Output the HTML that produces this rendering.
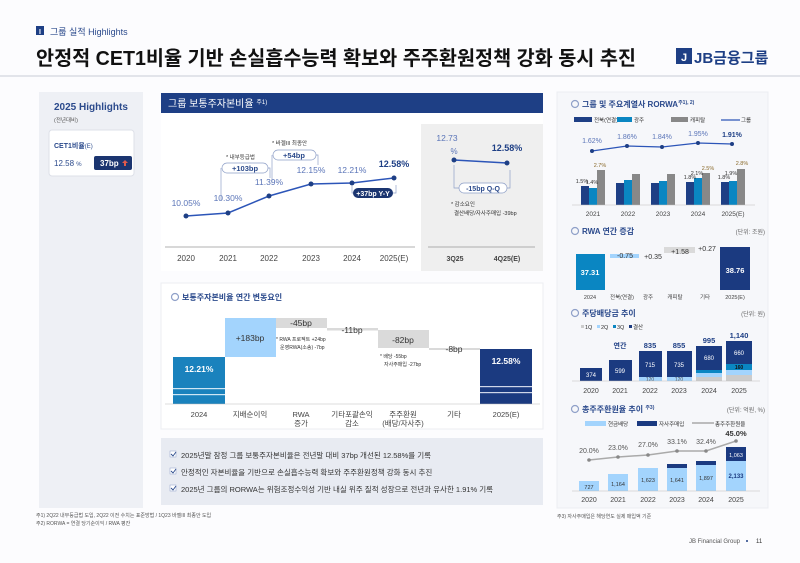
<!DOCTYPE html>
<html><head><meta charset="utf-8"><style>
html,body{margin:0;padding:0;background:#fff}
svg{display:block}
text{font-family:"Liberation Sans","Noto Sans CJK KR",sans-serif}
</style></head><body>
<svg width="800" height="563" viewBox="0 0 800 563" xmlns="http://www.w3.org/2000/svg">
<rect width="800" height="563" fill="#fcfcfe"/>
<!-- header -->
<rect x="36" y="26" width="8" height="9" fill="#1e3f85"/>
<text x="40" y="34" font-size="7" fill="#fff" text-anchor="middle" font-weight="bold">I</text>
<text x="50" y="35" font-size="9" fill="#2b4a8c">그룹 실적 Highlights</text>
<text x="36" y="65" font-size="20" font-weight="bold" fill="#111" textLength="600" lengthAdjust="spacingAndGlyphs">안정적 CET1비율 기반 손실흡수능력 확보와 주주환원정책 강화 동시 추진</text>
<rect x="676" y="48" width="16" height="16" fill="#1e3f85"/>
<text x="684" y="61" font-size="11" fill="#fff" text-anchor="middle" font-weight="bold">J</text>
<text x="694" y="63" font-size="15" font-weight="bold" fill="#1e3f85">JB금융그룹</text>
<line x1="0" y1="76" x2="800" y2="76" stroke="#d3d6de" stroke-width="1.2"/>

<!-- left panel -->
<rect x="39" y="92" width="104" height="416" fill="#eef0f5"/>
<text x="54" y="110" font-size="10" font-weight="bold" fill="#2b4a8c">2025 Highlights</text>
<text x="54" y="122" font-size="5.5" fill="#555">(전년대비)</text>
<rect x="49" y="130" width="85" height="46" rx="3" fill="#fff" stroke="#dde0e8"/>
<text x="54" y="148" font-size="7" font-weight="bold" fill="#2b4a8c">CET1비율<tspan font-weight="normal" font-size="6">(E)</tspan></text>
<text x="54" y="166" font-size="8" fill="#2b4a8c">12.58 <tspan font-size="6">%</tspan></text>
<rect x="94" y="156" width="38" height="14" rx="2" fill="#1b3570"/>
<text x="100" y="166" font-size="8" font-weight="bold" fill="#fff">37bp</text>
<path d="M125 160 l3 3 h-2 v3 h-2 v-3 h-2z" fill="#e0594b"/>

<!-- CET1 main -->
<rect x="161" y="93" width="382" height="20" fill="#1e3f85"/>
<text x="168" y="107" font-size="10" fill="#fff">그룹 보통주자본비율 <tspan font-size="6" dy="-3">주1)</tspan></text>
<rect x="161" y="113" width="382" height="158" fill="#fff"/>
<rect x="421" y="124" width="122" height="147" fill="#efefef"/>
<line x1="165" y1="247" x2="415" y2="247" stroke="#999" stroke-width="0.8"/>
<line x1="428" y1="247" x2="535" y2="247" stroke="#999" stroke-width="0.8"/>
<g font-size="8" fill="#444" text-anchor="middle">
<text x="186" y="261">2020</text><text x="228" y="261">2021</text><text x="269" y="261">2022</text><text x="311" y="261">2023</text><text x="352" y="261">2024</text><text x="394" y="261">2025(E)</text>
<text x="455" y="261" font-weight="bold" font-size="7">3Q25</text><text x="507" y="261" font-weight="bold" font-size="7">4Q25(E)</text>
</g>
<polyline points="186,216 228,213 269,196 311,184 352,183 394,178" fill="none" stroke="#2c55b8" stroke-width="1.5"/>
<g fill="#1e3f85"><circle cx="186" cy="216" r="2.5"/><circle cx="228" cy="213" r="2.5"/><circle cx="269" cy="196" r="2.5"/><circle cx="311" cy="184" r="2.5"/><circle cx="352" cy="183" r="2.5"/><circle cx="394" cy="178" r="2.5"/></g>
<g font-size="8.5" fill="#5b75b8" text-anchor="middle">
<text x="186" y="206">10.05%</text><text x="228" y="201">10.30%</text><text x="269" y="185">11.39%</text><text x="311" y="173">12.15%</text><text x="352" y="173">12.21%</text>
</g>
<text x="394" y="167" font-size="9" font-weight="bold" fill="#1e3f85" text-anchor="middle">12.58%</text>
<!-- annotations -->
<text x="226" y="159" font-size="5.5" fill="#333">* 내부등급법</text>
<rect x="222" y="163" width="46" height="10" rx="5" fill="#fff" stroke="#8fa0c8" stroke-width="0.7"/>
<text x="245" y="171" font-size="7.5" font-weight="bold" fill="#2b4a8c" text-anchor="middle">+103bp</text>
<path d="M221 168 v33 M268 168 h2 v10" fill="none" stroke="#8fa0c8" stroke-width="0.7"/>
<text x="272" y="145" font-size="5.5" fill="#333">* 바젤III 최종안</text>
<rect x="273" y="150" width="43" height="10" rx="5" fill="#fff" stroke="#8fa0c8" stroke-width="0.7"/>
<text x="294" y="158" font-size="7.5" font-weight="bold" fill="#2b4a8c" text-anchor="middle">+54bp</text>
<path d="M272 155 v28 M316 155 h2 v10" fill="none" stroke="#8fa0c8" stroke-width="0.7"/>
<path d="M352 186 v7 h2 M392 193 h4 v-8" fill="none" stroke="#8fa0c8" stroke-width="0.7"/>
<rect x="353" y="188" width="40" height="10" rx="5" fill="#1b3570"/>
<text x="373" y="196" font-size="7" font-weight="bold" fill="#fff" text-anchor="middle">+37bp Y-Y</text>
<!-- QQ -->
<text x="447" y="141" font-size="8.5" fill="#5b75b8" text-anchor="middle">12.73</text>
<text x="454" y="154" font-size="8" fill="#5b75b8" text-anchor="middle">%</text>
<text x="507" y="151" font-size="9" font-weight="bold" fill="#1e3f85" text-anchor="middle">12.58%</text>
<line x1="454" y1="160" x2="507" y2="163" stroke="#2c55b8" stroke-width="1.5"/>
<circle cx="454" cy="160" r="2.5" fill="#1e3f85"/><circle cx="507" cy="163" r="2.5" fill="#1e3f85"/>
<path d="M454 165 v23 h5 M507 188 h3 v-18" fill="none" stroke="#8fa0c8" stroke-width="0.7"/>
<rect x="459" y="183" width="48" height="10" rx="5" fill="#fff" stroke="#8fa0c8" stroke-width="0.7"/>
<text x="483" y="191" font-size="7" font-weight="bold" fill="#2b4a8c" text-anchor="middle">-15bp Q-Q</text>
<text x="451" y="206" font-size="5.5" fill="#333">* 감소요인</text>
<text x="454" y="215" font-size="5.5" fill="#333">결산배당/자사주매입 -39bp</text>

<!-- waterfall -->
<rect x="161" y="283" width="382" height="146" fill="#fff" stroke="#eceef2"/>
<circle cx="175" cy="297" r="3.5" fill="none" stroke="#8fa0c8" stroke-width="1.2"/>
<text x="182" y="300" font-size="8" font-weight="bold" fill="#2b4a8c">보통주자본비율 연간 변동요인</text>
<rect x="173" y="357" width="52" height="47" fill="#1a82bd"/>
<rect x="173" y="388" width="52" height="1.2" fill="#cfe6f4"/><rect x="173" y="394" width="52" height="1.2" fill="#cfe6f4"/>
<text x="199" y="372" font-size="8.5" font-weight="bold" fill="#fff" text-anchor="middle">12.21%</text>
<rect x="225" y="318" width="51" height="39" fill="#a3d4fd"/>
<text x="250" y="341" font-size="8.5" fill="#333" text-anchor="middle">+183bp</text>
<rect x="276" y="318" width="51" height="10" fill="#dadada"/>
<text x="301" y="326" font-size="8.5" fill="#333" text-anchor="middle">-45bp</text>
<rect x="327" y="328" width="51" height="2.5" fill="#dadada"/>
<text x="352" y="333" font-size="8.5" fill="#333" text-anchor="middle">-11bp</text>
<rect x="378" y="330" width="51" height="18" fill="#dadada"/>
<text x="403" y="343" font-size="8.5" fill="#333" text-anchor="middle">-82bp</text>
<rect x="429" y="348" width="51" height="2" fill="#dadada"/>
<text x="454" y="352" font-size="8.5" fill="#333" text-anchor="middle">-8bp</text>
<rect x="480" y="349" width="52" height="55" fill="#1b3a80"/>
<rect x="480" y="386" width="52" height="1.2" fill="#cfd6e8"/><rect x="480" y="392" width="52" height="1.2" fill="#cfd6e8"/>
<text x="506" y="364" font-size="8.5" font-weight="bold" fill="#fff" text-anchor="middle">12.58%</text>
<line x1="165" y1="404" x2="540" y2="404" stroke="#bbb" stroke-width="0.6"/>
<text x="276" y="341" font-size="5" fill="#333">* RWA 프로젝트 +24bp</text>
<text x="280" y="349" font-size="5" fill="#333">운영RWA(소송) -7bp</text>
<text x="380" y="358" font-size="5" fill="#333">* 배당 -55bp</text>
<text x="384" y="366" font-size="5" fill="#333">자사주매입 -27bp</text>
<g font-size="7.5" fill="#444" text-anchor="middle">
<text x="199" y="417">2024</text><text x="250" y="417">지배순이익</text><text x="301" y="417">RWA</text><text x="301" y="426">증가</text>
<text x="352" y="417">기타포괄손익</text><text x="352" y="426">감소</text><text x="403" y="417">주주환원</text><text x="403" y="426">(배당/자사주)</text>
<text x="454" y="417">기타</text><text x="506" y="417">2025(E)</text>
</g>

<!-- bullets -->
<rect x="161" y="438" width="382" height="67" fill="#e8ebf2"/>
<g font-size="7.5" fill="#333">
<rect x="170" y="451" width="6" height="6" fill="#fff" stroke="#8fa0c8" stroke-width="0.5"/><path d="M171 454 l2 2 l3 -4" stroke="#2b4a8c" fill="none" stroke-width="0.9"/>
<text x="181" y="458">2025년말 잠정 그룹 보통주자본비율은 전년말 대비 37bp 개선된 12.58%를 기록</text>
<rect x="170" y="468" width="6" height="6" fill="#fff" stroke="#8fa0c8" stroke-width="0.5"/><path d="M171 471 l2 2 l3 -4" stroke="#2b4a8c" fill="none" stroke-width="0.9"/>
<text x="181" y="475">안정적인 자본비율을 기반으로 손실흡수능력 확보와 주주환원정책 강화 동시 추진</text>
<rect x="170" y="485" width="6" height="6" fill="#fff" stroke="#8fa0c8" stroke-width="0.5"/><path d="M171 488 l2 2 l3 -4" stroke="#2b4a8c" fill="none" stroke-width="0.9"/>
<text x="181" y="492">2025년 그룹의 RORWA는 위험조정수익성 기반 내실 위주 질적 성장으로 전년과 유사한 1.91% 기록</text>
</g>
<text x="36" y="517" font-size="5" fill="#555">주1) 2Q22 내부등급법 도입, 2Q22 이전 수치는 표준방법 /  1Q23 바젤III 최종안 도입</text>
<text x="36" y="525" font-size="5" fill="#555">주2) RORWA = 연결 당기순이익 / RWA 평잔</text>

<!-- right panel -->
<rect x="557" y="92" width="211" height="416" fill="#f6f7fa" stroke="#eceef2"/>
<circle cx="575" cy="104" r="3.5" fill="none" stroke="#8fa0c8" stroke-width="1.2"/>
<text x="582" y="107" font-size="8" font-weight="bold" fill="#2b4a8c">그룹 및 주요계열사 RORWA<tspan font-size="5" dy="-3">주1), 2)</tspan></text>
<g font-size="5.5" fill="#333">
<rect x="574" y="117" width="18" height="5" fill="#1e3f85"/><text x="594" y="122">전북(연결)</text>
<rect x="617" y="117" width="15" height="5" fill="#0a86c2"/><text x="634" y="122">광주</text>
<rect x="671" y="117" width="17" height="5" fill="#888"/><text x="690" y="122">캐피탈</text>
<line x1="721" y1="120" x2="740" y2="120" stroke="#2c55b8" stroke-width="1.2"/><text x="741" y="122">그룹</text>
</g>
<polyline points="592,151 627,146 662,147 698,143 732,144" fill="none" stroke="#2c55b8" stroke-width="1.2"/>
<g fill="#1e3f85"><circle cx="592" cy="151" r="2"/><circle cx="627" cy="146" r="2"/><circle cx="662" cy="147" r="2"/><circle cx="698" cy="143" r="2"/><circle cx="732" cy="144" r="2"/></g>
<g font-size="7" fill="#5b75b8" text-anchor="middle"><text x="592" y="143">1.62%</text><text x="627" y="139">1.86%</text><text x="662" y="139">1.84%</text><text x="698" y="136">1.95%</text></g>
<text x="732" y="137" font-size="7" font-weight="bold" fill="#1e3f85" text-anchor="middle">1.91%</text>
<g>
<rect x="581" y="186" width="8" height="19" fill="#1e3f85"/><rect x="589" y="188" width="8" height="17" fill="#0a86c2"/><rect x="597" y="170" width="8" height="35" fill="#888"/>
<rect x="616" y="183" width="8" height="22" fill="#1e3f85"/><rect x="624" y="180" width="8" height="25" fill="#0a86c2"/><rect x="632" y="174" width="8" height="31" fill="#888"/>
<rect x="651" y="183" width="8" height="22" fill="#1e3f85"/><rect x="659" y="181" width="8" height="24" fill="#0a86c2"/><rect x="667" y="174" width="8" height="31" fill="#888"/>
<rect x="686" y="182" width="8" height="23" fill="#1e3f85"/><rect x="694" y="178" width="8" height="27" fill="#0a86c2"/><rect x="702" y="173" width="8" height="32" fill="#888"/>
<rect x="721" y="182" width="8" height="23" fill="#1e3f85"/><rect x="729" y="181" width="8" height="24" fill="#0a86c2"/><rect x="737" y="169" width="8" height="36" fill="#888"/>
</g>
<g font-size="5.5" fill="#333" text-anchor="middle"><text x="582" y="183">1.5%</text><text x="592" y="184">1.4%</text><text x="600" y="167" fill="#8a6a2a">2.7%</text>
<text x="690" y="179">1.8%</text><text x="697" y="175">2.1%</text><text x="708" y="170" fill="#8a6a2a">2.5%</text>
<text x="724" y="179">1.8%</text><text x="731" y="175">1.9%</text><text x="742" y="165" fill="#8a6a2a">2.8%</text></g>
<line x1="572" y1="205" x2="755" y2="205" stroke="#bbb" stroke-width="0.6"/>
<g font-size="6.5" fill="#444" text-anchor="middle"><text x="593" y="216">2021</text><text x="628" y="216">2022</text><text x="663" y="216">2023</text><text x="698" y="216">2024</text><text x="733" y="216">2025(E)</text></g>

<circle cx="575" cy="231" r="3.5" fill="none" stroke="#8fa0c8" stroke-width="1.2"/>
<text x="582" y="234" font-size="8" font-weight="bold" fill="#2b4a8c">RWA 연간 증감</text>
<text x="765" y="234" font-size="6" fill="#666" text-anchor="end">(단위: 조원)</text>
<rect x="576" y="254" width="29" height="36" fill="#0a86c2"/><text x="590" y="275" font-size="7.5" font-weight="bold" fill="#fff" text-anchor="middle">37.31</text>
<rect x="610" y="254" width="29" height="4" fill="#a3d4fd"/><text x="625" y="258" font-size="7" fill="#333" text-anchor="middle">-0.75</text>
<text x="653" y="259" font-size="7" fill="#333" text-anchor="middle">+0.35</text>
<rect x="664" y="247" width="31" height="6" fill="#dadada"/><text x="680" y="254" font-size="7" fill="#333" text-anchor="middle">+1.58</text>
<text x="707" y="251" font-size="7" fill="#333" text-anchor="middle">+0.27</text>
<rect x="720" y="247" width="30" height="43" fill="#1b3a80"/><text x="735" y="273" font-size="7.5" font-weight="bold" fill="#fff" text-anchor="middle">38.76</text>
<g font-size="5.5" fill="#444" text-anchor="middle"><text x="590" y="299">2024</text><text x="622" y="299">전북(연결)</text><text x="648" y="299">광주</text><text x="675" y="299">캐피탈</text><text x="705" y="299">기타</text><text x="735" y="299">2025(E)</text></g>

<circle cx="575" cy="313" r="3.5" fill="none" stroke="#8fa0c8" stroke-width="1.2"/>
<text x="582" y="316" font-size="8" font-weight="bold" fill="#2b4a8c">주당배당금 추이</text>
<text x="765" y="316" font-size="6" fill="#666" text-anchor="end">(단위: 원)</text>
<g font-size="5.5" fill="#333"><rect x="581" y="325" width="3" height="3" fill="#ccc"/><text x="585" y="329">1Q</text><rect x="597" y="325" width="3" height="3" fill="#a3d4fd"/><text x="601" y="329">2Q</text><rect x="613" y="325" width="3" height="3" fill="#0a86c2"/><text x="617" y="329">3Q</text><rect x="629" y="325" width="3" height="3" fill="#1b3a80"/><text x="633" y="329">결산</text></g>
<rect x="580" y="368" width="22" height="13" fill="#1b3a80"/><text x="591" y="377" font-size="6" fill="#fff" text-anchor="middle">374</text>
<rect x="609" y="360" width="23" height="21" fill="#1b3a80"/><text x="620" y="373" font-size="6" fill="#fff" text-anchor="middle">599</text>
<text x="620" y="348" font-size="7" font-weight="bold" fill="#1e3f85" text-anchor="middle">연간</text>
<rect x="639" y="351" width="23" height="26" fill="#1b3a80"/><rect x="639" y="377" width="23" height="4" fill="#a3d4fd"/><text x="650" y="367" font-size="6" fill="#fff" text-anchor="middle">715</text><text x="650" y="381" font-size="5" fill="#555" text-anchor="middle">120</text>
<text x="650" y="348" font-size="7.5" font-weight="bold" fill="#1e3f85" text-anchor="middle">835</text>
<rect x="667" y="351" width="25" height="26" fill="#1b3a80"/><rect x="667" y="377" width="25" height="4" fill="#a3d4fd"/><text x="679" y="367" font-size="6" fill="#fff" text-anchor="middle">735</text><text x="679" y="381" font-size="5" fill="#555" text-anchor="middle">120</text>
<text x="679" y="348" font-size="7.5" font-weight="bold" fill="#1e3f85" text-anchor="middle">855</text>
<rect x="696" y="346" width="26" height="24" fill="#1b3a80"/><rect x="696" y="370" width="26" height="3" fill="#0a86c2"/><rect x="696" y="373" width="26" height="4" fill="#a3d4fd"/><rect x="696" y="377" width="26" height="4" fill="#ccc"/><text x="709" y="360" font-size="6" fill="#fff" text-anchor="middle">680</text>
<text x="709" y="343" font-size="7.5" font-weight="bold" fill="#1e3f85" text-anchor="middle">995</text>
<rect x="726" y="341" width="26" height="23" fill="#1b3a80"/><rect x="726" y="364" width="26" height="6" fill="#0a86c2"/><rect x="726" y="370" width="26" height="5" fill="#a3d4fd"/><rect x="726" y="375" width="26" height="6" fill="#ccc"/><text x="739" y="355" font-size="6" fill="#fff" text-anchor="middle">660</text><text x="739" y="369" font-size="5" font-weight="bold" fill="#111" text-anchor="middle">160</text>
<text x="739" y="338" font-size="7.5" font-weight="bold" fill="#1e3f85" text-anchor="middle">1,140</text>
<line x1="572" y1="381" x2="760" y2="381" stroke="#bbb" stroke-width="0.6"/>
<g font-size="7" fill="#444" text-anchor="middle"><text x="591" y="393">2020</text><text x="620" y="393">2021</text><text x="650" y="393">2022</text><text x="679" y="393">2023</text><text x="709" y="393">2024</text><text x="739" y="393">2025</text></g>

<circle cx="575" cy="409" r="3.5" fill="none" stroke="#8fa0c8" stroke-width="1.2"/>
<text x="582" y="412" font-size="8" font-weight="bold" fill="#2b4a8c">총주주환원율 추이 <tspan font-size="5" dy="-3">주3)</tspan></text>
<text x="765" y="412" font-size="6" fill="#666" text-anchor="end">(단위: 억원, %)</text>
<g font-size="5.5" fill="#333"><rect x="585" y="421" width="21" height="5" fill="#a3d4fd"/><text x="608" y="426">현금배당</text><rect x="637" y="421" width="20" height="5" fill="#1b3a80"/><text x="659" y="426">자사주매입</text><line x1="692" y1="423" x2="714" y2="423" stroke="#999" stroke-width="1.2"/><text x="715" y="426">총주주환원율</text></g>
<polyline points="589,460 618,457 648,455 677,451 706,451 736,441" fill="none" stroke="#aaa" stroke-width="1.5"/>
<g fill="#888"><circle cx="589" cy="460" r="1.8"/><circle cx="618" cy="457" r="1.8"/><circle cx="648" cy="455" r="1.8"/><circle cx="677" cy="451" r="1.8"/><circle cx="706" cy="451" r="1.8"/><circle cx="736" cy="441" r="1.8"/></g>
<g font-size="7" fill="#555" text-anchor="middle"><text x="589" y="453">20.0%</text><text x="618" y="450">23.0%</text><text x="648" y="447">27.0%</text><text x="677" y="444">33.1%</text><text x="706" y="444">32.4%</text></g>
<text x="736" y="436" font-size="7.5" font-weight="bold" fill="#333" text-anchor="middle">45.0%</text>
<rect x="579" y="481" width="20" height="10" fill="#a3d4fd"/><text x="589" y="489" font-size="5.5" fill="#333" text-anchor="middle">727</text>
<rect x="608" y="474" width="20" height="17" fill="#a3d4fd"/><text x="618" y="486" font-size="5.5" fill="#333" text-anchor="middle">1,164</text>
<rect x="638" y="468" width="20" height="23" fill="#a3d4fd"/><text x="648" y="482" font-size="5.5" fill="#333" text-anchor="middle">1,623</text>
<rect x="667" y="468" width="20" height="23" fill="#a3d4fd"/><rect x="667" y="464" width="20" height="4" fill="#1b3a80"/><text x="677" y="482" font-size="5.5" fill="#333" text-anchor="middle">1,641</text>
<rect x="696" y="465" width="20" height="26" fill="#a3d4fd"/><rect x="696" y="461" width="20" height="4" fill="#1b3a80"/><text x="706" y="480" font-size="5.5" fill="#333" text-anchor="middle">1,897</text>
<rect x="726" y="461" width="20" height="30" fill="#a3d4fd"/><rect x="726" y="447" width="20" height="14" fill="#1b3a80"/><text x="736" y="457" font-size="5.5" fill="#fff" text-anchor="middle">1,063</text><text x="736" y="478" font-size="6" font-weight="bold" fill="#1b3a80" text-anchor="middle">2,133</text>
<line x1="572" y1="491" x2="760" y2="491" stroke="#bbb" stroke-width="0.6"/>
<g font-size="7" fill="#444" text-anchor="middle"><text x="589" y="502">2020</text><text x="618" y="502">2021</text><text x="648" y="502">2022</text><text x="677" y="502">2023</text><text x="706" y="502">2024</text><text x="736" y="502">2025</text></g>
<text x="557" y="518" font-size="5" fill="#555">주3) 자사주매입은 해당연도 실제 매입액 기준</text>
<text x="740" y="543" font-size="6" fill="#555" text-anchor="end">JB Financial Group</text>
<circle cx="747" cy="541" r="1" fill="#1e3f85"/>
<text x="756" y="543" font-size="6" fill="#333">11</text>
</svg>
</body></html>
